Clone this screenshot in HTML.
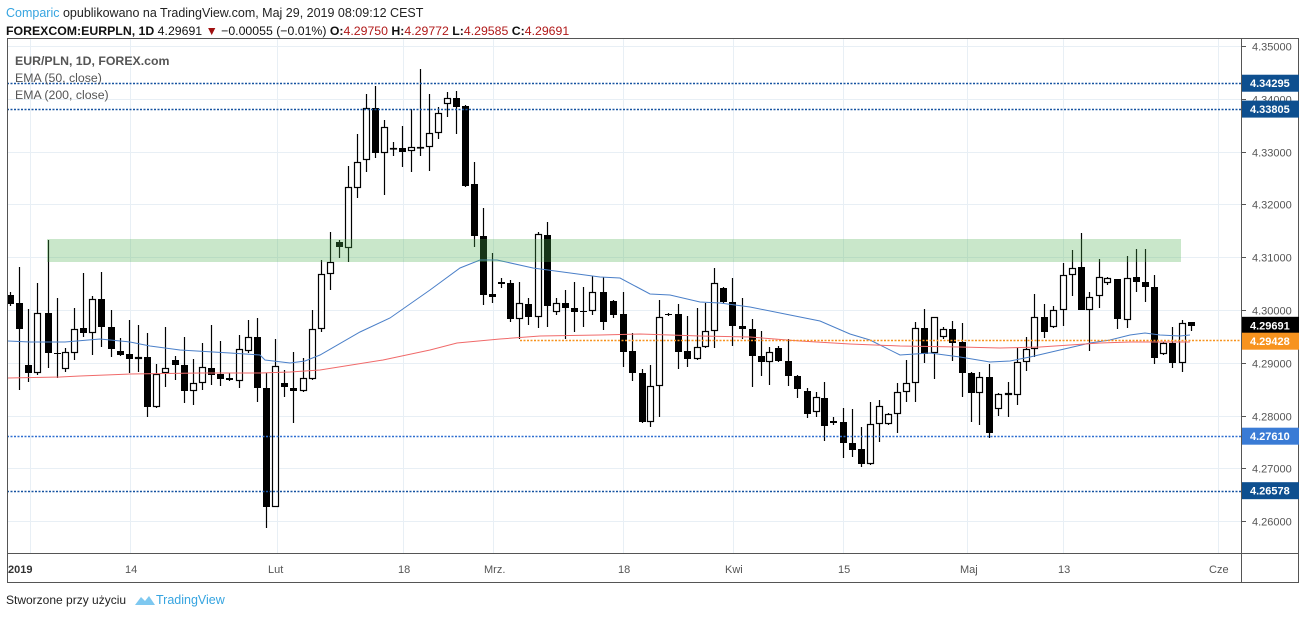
<!DOCTYPE html>
<html><head><meta charset="utf-8"><style>
body{margin:0;background:#fff;width:1304px;height:618px;overflow:hidden;font-family:"Liberation Sans",sans-serif;}
svg{position:absolute;left:0;top:0}
</style></head><body>
<svg id="s" width="1304" height="618" xmlns="http://www.w3.org/2000/svg" font-family="Liberation Sans, sans-serif">
<text x="6" y="17" font-size="12.5"><tspan fill="#36a4e0">Comparic</tspan><tspan fill="#222"> opublikowano na TradingView.com, Maj 29, 2019 08:09:12 CEST</tspan></text>
<text x="6" y="35" font-size="12.3" fill="#111"><tspan font-weight="bold">FOREXCOM:EURPLN, 1D</tspan> 4.29691 <tspan fill="#a01010">▼</tspan> −0.00055 (−0.01%) <tspan font-weight="bold">O:</tspan><tspan fill="#b01818">4.29750</tspan> <tspan font-weight="bold">H:</tspan><tspan fill="#b01818">4.29772</tspan> <tspan font-weight="bold">L:</tspan><tspan fill="#b01818">4.29585</tspan> <tspan font-weight="bold">C:</tspan><tspan fill="#b01818">4.29691</tspan></text>
<g id="grid"></g>
<g id="c"></g>
<rect x="47" y="239" width="1134" height="23" fill="#4caf50" fill-opacity="0.3"/>
<g id="ov"></g>
<rect x="7.5" y="38.5" width="1234" height="544" fill="none" stroke="#555" stroke-width="1"/>
<line x1="7" y1="553.5" x2="1299" y2="553.5" stroke="#555"/>
<rect x="1241.5" y="38.5" width="57" height="544" fill="none" stroke="#555"/>
<text x="15" y="65" font-size="12.3" font-weight="bold" fill="#555">EUR/PLN, 1D, FOREX.com</text>
<text x="15" y="82" font-size="12.3" fill="#555">EMA (50, close)</text>
<text x="15" y="99" font-size="12.3" fill="#555">EMA (200, close)</text>
<g font-size="11" fill="#555">
<text x="8" y="573" font-weight="bold" fill="#333">2019</text>
<text x="125" y="573">14</text><text x="268" y="573">Lut</text><text x="398" y="573">18</text>
<text x="484" y="573">Mrz.</text><text x="618" y="573">18</text><text x="725" y="573">Kwi</text>
<text x="838" y="573">15</text><text x="960" y="573">Maj</text><text x="1058" y="573">13</text><text x="1209" y="573">Cze</text>
</g>
<g id="ax" font-size="11"></g>
<text x="6" y="604" font-size="12" fill="#222">Stworzone przy użyciu</text>
<path d="M135 605 l6 -8 l4 4 l4 -5 l6 9 z" fill="#7ec8f0"/>
<text x="156" y="604" font-size="12.5" fill="#36a4e0">TradingView</text>
</svg>
<script>
var NS="http://www.w3.org/2000/svg";
function el(p,t,a){var e=document.createElementNS(NS,t);for(var k in a)e.setAttribute(k,a[k]);document.getElementById(p).appendChild(e);return e;}
function Y(p){return 46+(4.35-p)*5280;}
var vx=[30,130,277,403,493,623,733,843,967,1063,1218];
vx.forEach(function(x){el("grid","line",{x1:x+.5,y1:38,x2:x+.5,y2:553,stroke:"#e8eff5"});});
for(var k=0;k<=9;k++){var p=4.26+k*0.01,y=Math.round(Y(p))+.5;el("grid","line",{x1:7,y1:y,x2:1241,y2:y,stroke:"#e8eff5"});
 el("ax","line",{x1:1241,y1:y,x2:1246,y2:y,stroke:"#555"});
 var t=el("ax","text",{x:1252,y:y+4,fill:"#555"});t.textContent=p.toFixed(5);}
var C=[[10,295,304,292,306,1],[19,303,329,267,390,1],[28,365,373,309,382,1],[37,313,373,283,375,0],[48,313,353,240,368,1],[57,353,354,298,378,1],[65,352,369,348,372,0],[74,329,353,308,360,0],[83,328,333,273,337,1],[92,299,333,296,355,0],[101,299,327,272,347,1],[111,327,349,310,357,1],[120,351,355,338,356,1],[129,354,359,320,373,1],[138,357,359,325,372,0],[147,357,407,333,417,1],[156,374,407,364,408,0],[165,368,373,327,387,0],[175,360,365,356,380,1],[184,365,391,337,403,1],[193,383,391,359,405,0],[202,367,383,343,390,0],[211,368,375,325,385,1],[220,374,379,341,386,1],[229,378,380,373,381,1],[239,349,381,335,388,0],[248,337,351,320,353,0],[257,337,388,318,402,1],[266,388,507,373,528,1],[275,366,507,339,507,0],[284,383,387,370,397,1],[293,388,391,352,423,1],[303,378,391,358,392,0],[312,329,379,310,380,0],[321,274,329,260,332,0],[330,262,274,232,290,0],[339,242,247,240,258,1],[348,187,248,166,262,0],[357,162,188,134,198,0],[366,108,160,94,172,0],[375,108,153,86,158,1],[384,127,153,120,195,0],[393,148,149,142,156,0],[402,148,152,126,167,1],[411,147,151,109,172,0],[420,147,148,69,156,0],[429,133,147,94,171,0],[438,113,133,107,139,0],[447,98,104,92,117,0],[456,98,107,91,134,1],[465,106,186,105,187,1],[474,184,236,162,247,1],[483,236,295,208,305,1],[492,294,297,253,303,1],[501,282,284,278,288,1],[510,283,319,280,322,1],[519,303,319,282,339,0],[528,304,317,298,325,1],[538,234,317,232,328,0],[547,235,306,222,327,1],[556,303,312,298,315,0],[565,303,308,290,339,1],[574,308,312,282,332,1],[583,311,312,287,327,1],[592,292,311,276,315,0],[603,292,322,277,330,1],[613,301,315,300,318,1],
[623,314,352,292,367,1],[632,351,373,333,381,1],[642,373,422,369,423,1],[650,386,422,365,427,0],[659,317,386,300,417,0],[668,314,315,313,316,1],[678,314,352,304,369,1],[687,351,359,316,367,1],[697,347,359,308,360,0],[705,331,347,303,348,0],[714,283,331,268,348,0],[723,288,302,287,303,1],[732,302,326,278,346,1],[742,326,329,298,339,1],[752,329,356,319,387,1],[761,356,362,331,376,1],[769,352,362,347,385,0],[778,348,361,346,362,1],[788,361,376,339,386,1],[797,376,389,375,398,1],[807,391,414,388,418,1],[816,397,412,392,417,0],[824,398,426,382,441,1],[833,421,423,417,425,1],[843,422,443,408,458,1],[852,443,450,409,457,1],[861,449,464,427,467,1],[870,424,464,402,465,0],[879,406,424,400,442,0],[888,414,424,413,425,0],[897,392,414,383,433,0],[906,383,392,360,402,0],[915,328,383,322,402,0],
[924,328,354,309,363,1],[934,317,353,317,379,0],[943,329,337,327,339,0],[952,329,343,321,361,1],[962,342,373,323,397,1],[971,373,393,372,422,1],[979,377,393,372,425,0],[989,377,433,364,438,1],[998,394,409,393,416,0],[1008,393,395,382,417,0],[1017,362,395,348,405,0],[1026,349,362,337,371,0],[1034,317,349,294,357,0],[1044,317,332,304,338,1],[1053,310,327,306,328,0],[1063,275,310,263,326,0],[1072,268,275,250,296,0],[1081,267,310,233,310,1],[1089,297,310,292,351,0],[1099,277,296,259,308,0],[1107,278,283,277,285,0],[1117,279,319,279,329,1],[1127,278,320,256,328,0],[1136,277,282,249,292,1],[1145,282,287,249,302,1],[1154,287,358,275,364,1],[1163,343,354,342,355,0],[1172,343,363,327,368,1],[1182,323,363,320,372,0],[1191,322,326,322,331,1]];
C.forEach(function(c){var x=c[0];
 el("c","line",{x1:x+.5,y1:c[3],x2:x+.5,y2:c[4],stroke:"#000","stroke-width":1.2});
 var h=Math.max(1,c[2]-c[1]);
 if(c[5])el("c","rect",{x:x-3,y:c[1],width:7,height:h,fill:"#000"});
 else el("c","rect",{x:x-2.5,y:c[1]+.5,width:6,height:Math.max(0.5,h-1),fill:"#fff",stroke:"#000","stroke-width":1.2});});
function pl(pts,col){el("c","polyline",{points:pts.map(function(p){return p.join(",")}).join(" "),fill:"none",stroke:col,"stroke-width":1});}
pl([[8,341],[30,342],[47,342],[65,342],[100,339],[130,342],[150,346],[180,350],[230,353],[260,355],[265,360],[290,363],[305,361],[320,355],[360,332],[390,318],[430,290],[460,268],[480,260],[497,260],[533,268],[600,277],[620,278],[650,294],[670,295],[700,302],[720,303],[750,307],[790,315],[820,321],[850,334],[870,340],[900,355],[930,353],[960,357],[990,362],[1010,361],[1030,357],[1060,350],[1090,343],[1110,340],[1130,335],[1145,333],[1160,335],[1180,336],[1190,335]],"#4a7fc8");
pl([[8,378],[60,377],[80,376],[130,374],[200,373],[260,373],[290,372],[320,370],[383,360],[430,350],[457,343],[500,339],[540,336],[600,335],[640,334],[700,336],[750,337],[800,341],[850,344],[900,346],[960,347],[1000,348],[1040,347],[1070,345],[1100,343],[1130,342],[1160,342],[1190,342]],"#f06a6a");
[[4.34295,"#1552a0"],[4.33805,"#1552a0"],[4.2761,"#2f6fd0"],[4.26578,"#1552a0"]].forEach(function(d){var y=Math.round(Y(d[0]))+.5;
 el("ov","line",{x1:7,y1:y,x2:1241,y2:y,stroke:d[1],"stroke-width":1.5,"stroke-dasharray":"2,1.5"});});
el("ov","line",{x1:520,y1:340.5,x2:1241,y2:340.5,stroke:"#f7931e","stroke-width":1.4,"stroke-dasharray":"2,1.5"});
[[4.34295,"#0e4f8f","#fff"],[4.33805,"#0e4f8f","#fff"],[4.29691,"#000","#fff"],[4.29428,"#f7931e","#fff"],[4.2761,"#3a7bd5","#fff"],[4.26578,"#0e4f8f","#fff"]].forEach(function(d){var y=Y(d[0]);
 if(d[0]==4.29428)y=Y(d[0])+1;if(d[0]==4.29691)y=Y(d[0])-1;
 el("ax","rect",{x:1242,y:y-8.5,width:57,height:17,fill:d[1]});
 var t=el("ax","text",{x:1250,y:y+4,fill:d[2],"font-weight":"bold"});t.textContent=d[0].toFixed(5);});
</script>
</body></html>
